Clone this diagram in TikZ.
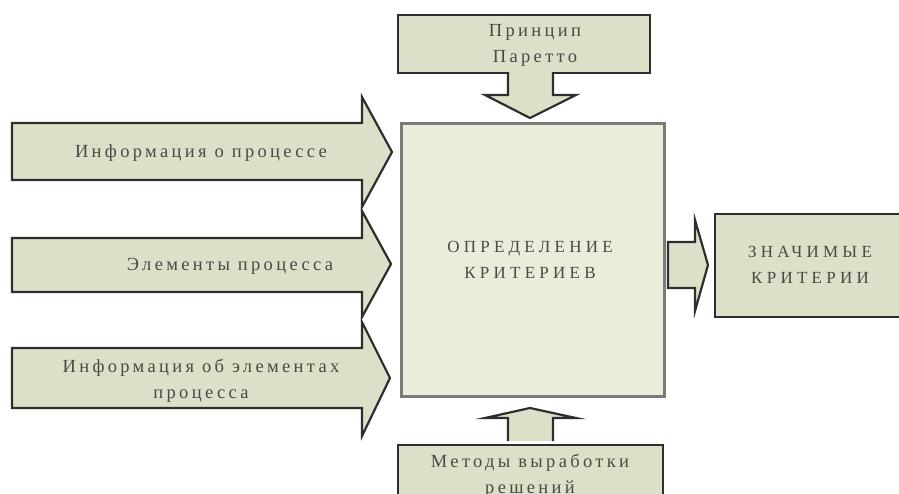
\documentclass[tikz,border=0pt]{standalone}
\usepackage{fontspec}
\setmainfont{Liberation Serif}
\newfontfamily\lsfont[LetterSpace=18]{Liberation Serif}
\newfontfamily\capfont[LetterSpace=25]{Liberation Serif}
\definecolor{arrfill}{HTML}{DCE0C9}
\definecolor{mainfill}{HTML}{E9EDD9}
\definecolor{edge}{HTML}{2E2E2E}
\definecolor{mainedge}{HTML}{7A7A78}
\definecolor{txt}{HTML}{4A4A45}
\tikzset{
  blockarrow/.style={draw=edge, line width=2.2pt, fill=arrfill, line join=miter},
  boxstyle/.style={draw=edge, line width=2.2pt, fill=arrfill},
  mainbox/.style={draw=mainedge, line width=2.6pt, fill=mainfill},
  lbl/.style={text=txt, font=\lsfont\fontsize{18.5}{26}\selectfont, align=center, inner sep=0pt},
  caplbl/.style={text=txt, font=\capfont\fontsize{17}{26}\selectfont, align=center, inner sep=0pt}
}
\begin{document}
\begin{tikzpicture}[x=1pt,y=-1pt]
\useasboundingbox (0,0) rectangle (899,493);
\clip (0,0) rectangle (899,493);
% left arrows
\draw[blockarrow] (12,123) -- (362,123) -- (362,97) -- (392,152) -- (362,207) -- (362,180) -- (12,180) -- cycle;
\draw[blockarrow] (12,238) -- (362,238) -- (362,211) -- (391,264) -- (362,317) -- (362,292) -- (12,292) -- cycle;
\draw[blockarrow] (12,348) -- (362,348) -- (362,322) -- (390,378) -- (362,436) -- (362,408) -- (12,408) -- cycle;
% top box and arrow
\draw[boxstyle] (398,15) rectangle (650,73);
\draw[blockarrow] (508,72) -- (508,95) -- (485,95) -- (530,118) -- (576,95) -- (553,95) -- (553,72);
% main box
\node[mainbox, minimum width=263pt, minimum height=273pt, anchor=north west, inner sep=0pt] (main) at (400,122) {};
% right arrow
\draw[blockarrow] (668,242) -- (695,242) -- (695,220) -- (708,265) -- (695,311) -- (695,288) -- (668,288) -- cycle;
% right box
\draw[boxstyle] (715,214) rectangle (910,317);
% bottom box and arrow
\draw[boxstyle] (398,445) rectangle (663,510);
\draw[blockarrow] (508,441) -- (508,418) -- (485,418) -- (530,408) -- (576,418) -- (553,418) -- (553,441);
% labels
\node[lbl] (t1) at (201,153) {Информация о процессе};
\node[lbl] (t2) at (230,266) {Элементы процесса};
\node[lbl] (t3) at (201,381) {Информация об элементах\\процесса};
\node[lbl] (tp) at (535,45) {Принцип\\Паретто};
\node[caplbl] (tm) at (530,260) {ОПРЕДЕЛЕНИЕ\\КРИТЕРИЕВ};
\node[caplbl] (tr) at (810,265) {ЗНАЧИМЫЕ\\КРИТЕРИИ};
\node[lbl, anchor=north] (tb) at (530,454) {Методы выработки\\решений};
\end{tikzpicture}
\end{document}
